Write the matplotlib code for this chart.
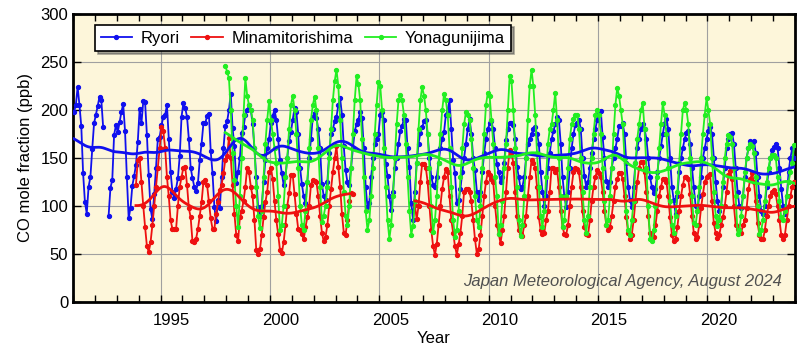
import numpy as np
import matplotlib
matplotlib.use('Agg')
import matplotlib.pyplot as plt
from matplotlib.ticker import FixedLocator, NullFormatter

nan = np.nan

# Monthly CO mole fraction (ppb), one row per year, Jan..Dec
ryori_start = 1991
ryori = [
    198, 205, 224, 205, 183, 134, 104,  92, 120, 130, 159, 186,   # 1991
    195, 204, 214, 210, 182, nan, nan,  90, 119, 127, 174, 184,   # 1992
    177, 187, 198, 206, 178, 130,  87,  98, 121, 131, 143, 167,   # 1993
    201, 186, 209, 208, 174, 132,  97,  86, 112, 140, 170, 172,   # 1994
    184, 193, 195, 205, 170, 135, 115, 108, 118, 129, 152, 193,   # 1995
    207, 202, 193, 170, 140, 129, 120, 116, 124, 148, 165, 186,   # 1996
    186, 194, 196, 157, 134,  99,  84, 106,  98, 130, 160, 183,   # 1997
    188, 200, 217, 181, 162, 124, 135, 150, 176, 182, 195, 200,   # 1998
    205, 200, 185, 160, 130,  99,  90, 100, 125, 148, 160, 170,   # 1999
    186, 194, 200, 190, 170, 148, 134, 122, 130, 150, 168, 177,   # 2000
    190, 202, 198, 175, 140, 123, 110, 103, 125, 150, 170, 193,   # 2001
    197, 192, 180, 160, 123, 110, 106, 125, 155, 175, 180, 188,   # 2002
    193, 205, 212, 195, 162, 137, 125, 122, 140, 160, 178, 185,   # 2003
    190, 198, 192, 160, 120,  99, 103, 130, 150, 165, 170, 175,   # 2004
    195, 198, 190, 144, 131, 110,  96, 115, 140, 150, 165, 178,   # 2005
    183, 191, 190, 160, 141, 103,  85, 115, 145, 165, 176, 182,   # 2006
    188, 190, 175, 150, 130, 122, 120, 130, 145, 160, 170, 177,   # 2007
    195, 200, 210, 180, 148, 134, 103, 106, 118, 135, 150, 165,   # 2008
    180, 191, 175, 150, 137, 115, 106, 115, 135, 155, 170, 180,   # 2009
    186, 188, 180, 160, 144, 135, 125, 130, 145, 169, 180, 186,   # 2010
    186, 184, 170, 141, 130, 118, 120, 130, 150, 165, 170, 175,   # 2011
    180, 182, 175, 165, 135, 115, 100, 110, 140, 155, 170, 178,   # 2012
    185, 193, 190, 165, 130, 110,  99, 115, 140, 160, 175, 184,   # 2013
    186, 190, 180, 150, 131, 120, 125, 140, 155, 170, 180, 190,   # 2014
    197, 199, 172, 150, 126, 120, 125, 140, 150, 160, 170, 183,   # 2015
    183, 186, 175, 145, 120, 106,  99, 120, 145, 160, 170, 180,   # 2016
    185, 180, 170, 150, 130, 120, 113, 118, 135, 150, 162, 175,   # 2017
    186, 191, 180, 150, 120, 106,  92, 110, 135, 150, 160, 170,   # 2018
    176, 178, 165, 140, 120, 100,  95, 110, 130, 150, 160, 170,   # 2019
    178, 182, 175, 150, 125, 105,  95, 100, 120, 140, 160, 170,   # 2020
    175, 176, 165, 140, 115, 100,  98, 110, 130, 150, 160, 168,   # 2021
    165, 168, 155, 130, 110,  95,  92, 100, 120, 135, 150, 158,   # 2022
    161, 165, 160, 140, 118, 100,  92, 110, 135, 150, 160, 150,   # 2023
]

minami_start = 1993
minami = [
    nan, nan, nan, nan, nan, nan, nan, nan, nan, nan, 122, 148,   # 1993
    150, 125, 100,  78,  58,  52,  62,  80, 100, 120, 140, 160,   # 1994
    182, 178, 160, 130, 110,  85,  76,  76,  76, 100, 120, 130,   # 1995
    140, 141, 122,  98,  88,  63,  62,  66,  76,  90, 104, 125,   # 1996
    127, 122, 105,  87,  76,  76,  92, 104, 117, 122, 134, 148,   # 1997
    152, 171, 150, 122,  92,  70,  63,  88,  95, 105, 120, 140,   # 1998
    135, 120, 110,  85,  54,  50,  55,  70,  88, 104, 115, 135,   # 1999
    140, 128, 105,  85,  71,  54,  51,  62,  80, 100, 113, 132,   # 2000
    132, 112,  92,  76,  75,  71,  65,  78,  88, 100, 122, 127,   # 2001
    126, 125, 110,  90,  72,  63,  68,  80, 100, 118, 135, 150,   # 2002
    162, 141, 120,  92,  72,  70,  85, 105, 113, 112, nan, nan,   # 2003
    nan, nan, nan, nan, nan, nan, nan, nan, nan, nan, nan, nan,   # 2004
    nan, nan, nan, nan, nan, nan, nan, nan, nan, nan, nan, nan,   # 2005
    nan, nan, nan, nan, nan, nan, nan, 101,  86, 100, 125, 144,   # 2006
    144, 140, 125, 100,  75,  58,  49,  60,  80, 100, 118, 130,   # 2007
    139, 135, 110,  85,  72,  58,  49,  60,  72,  90, 115, 118,   # 2008
    118, 115, 105,  85,  65,  50,  55,  70,  90, 110, 125, 135,   # 2009
    132, 128, 125, 100,  80,  71,  61,  75,  90, 115, 140, 158,   # 2010
    155, 145, 115,  90,  75,  71,  69,  80,  90, 110, 130, 148,   # 2011
    145, 140, 120,  88,  75,  71,  72,  85,  95, 115, 140, 140,   # 2012
    135, 138, 120,  95,  78,  71,  70,  80, 100, 120, 135, 140,   # 2013
    139, 135, 120,  95,  78,  71,  70,  85, 105, 120, 130, 137,   # 2014
    134, 130, 115,  95,  80,  75,  78,  90, 105, 120, 128, 134,   # 2015
    134, 128, 110,  88,  72,  66,  70,  85, 105, 125, 140, 146,   # 2016
    146, 135, 115,  90,  72,  66,  68,  80,  95, 110, 120, 128,   # 2017
    128, 125, 110,  88,  70,  63,  66,  78,  95, 110, 122, 130,   # 2018
    130, 128, 112,  90,  72,  66,  68,  80,  98, 112, 125, 130,   # 2019
    131, 133, 105,  82,  72,  67,  70,  80,  88, 100, 115, 132,   # 2020
    136, 128, 100,  80,  76,  75,  72,  80,  85,  98, 118, 128,   # 2021
    134, 125, 105,  82,  70,  65,  65,  75,  90, 100, 110, 115,   # 2022
    117, 112, 100,  85,  70,  65,  70,  85, 100, 110, 120, 125,   # 2023
]

yonagu_start = 1997
yonagu = [
    nan, nan, nan, nan, nan, nan, nan, nan, nan, nan, nan, 246,   # 1997
    240, 233, 200, 155, 127, 100,  78, 110, 150, 195, 233, 215,   # 1998
    205, 200, 190, 160, 120,  90,  77,  95, 130, 165, 190, 209,   # 1999
    190, 175, 160, 145, 110,  75,  80, 100, 130, 150, 180, 205,   # 2000
    215, 200, 175, 140, 100,  80,  75,  95, 125, 160, 190, 205,   # 2001
    214, 200, 160, 120,  83,  90, 100, 120, 150, 180, 210, 230,   # 2002
    242, 225, 190, 150, 115,  90,  80, 100, 140, 175, 210, 235,   # 2003
    227, 210, 170, 130,  95,  75,  85, 110, 140, 175, 205, 229,   # 2004
    225, 200, 160, 120,  85,  66,  80, 110, 150, 185, 210, 216,   # 2005
    210, 195, 165, 130,  95,  70,  79, 105, 145, 180, 210, 224,   # 2006
    215, 200, 175, 140, 100,  73,  85, 110, 145, 175, 200, 217,   # 2007
    210, 195, 160, 120,  85,  68,  75,  95, 130, 160, 185, 198,   # 2008
    195, 190, 170, 140, 110,  85,  78, 100, 140, 175, 205, 218,   # 2009
    215, 190, 165, 130, 110,  71,  80, 105, 140, 165, 200, 235,   # 2010
    230, 200, 160, 120,  85,  69,  80, 110, 150, 190, 225, 242,   # 2011
    225, 195, 155, 120,  90,  78,  95, 130, 165, 180, 185, 200,   # 2012
    218, 190, 150, 110,  78,  85, 110, 140, 170, 185, 191, 195,   # 2013
    195, 180, 150, 115,  85,  72,  90, 120, 150, 175, 195, 200,   # 2014
    195, 175, 140, 105,  80,  85, 110, 140, 175, 205, 223, 215,   # 2015
    200, 185, 150,  95,  75,  70,  85, 105, 145, 170, 185, 200,   # 2016
    207, 180, 140, 100,  65,  63,  75, 100, 130, 160, 185, 207,   # 2017
    195, 175, 140, 105,  80,  72,  90, 115, 145, 175, 200, 207,   # 2018
    200, 185, 150, 110,  82,  80,  95, 120, 150, 175, 195, 212,   # 2019
    200, 185, 150, 115,  90,  79,  85, 100, 125, 150, 165, 174,   # 2020
    172, 165, 140, 110,  71,  75,  90, 110, 135, 150, 160, 165,   # 2021
    162, 155, 130, 100,  71,  75,  85, 105, 125, 140, 150, 153,   # 2022
    153, 150, 130, 105,  88,  85,  95, 110, 125, 135, 145, 164,   # 2023
]

stations = ['Ryori', 'Minamitorishima', 'Yonagunijima']
colors = ['#1010ee', '#ee1010', '#22ee22']
year_labels = [1995, 2000, 2005, 2010, 2015, 2020]


def monthly_time(start, values):
    return start + (np.arange(len(values)) + 0.5) / 12.0


def smooth_trend(t, v, sigma=0.45):
    # remove the mean seasonal cycle, then gaussian-smooth each data stretch
    v = np.asarray(v, dtype=float)
    table = v.reshape(-1, 12)
    clim = np.nanmean(table, axis=0) - np.nanmean(table)
    d = (table - clim).ravel()
    idx = np.where(~np.isnan(v))[0]
    breaks = np.where(np.diff(idx) > 6)[0] + 1
    pieces = []
    for seg in np.split(idx, breaks):
        ts, ds = t[seg], d[seg]
        grid = np.linspace(ts[0], ts[-1], len(ts) * 6)
        w = np.exp(-0.5 * ((grid[:, None] - ts[None, :]) / sigma) ** 2)
        pieces.append((grid, (w * ds).sum(axis=1) / w.sum(axis=1)))
    return pieces


plt.rcParams['font.family'] = ['Liberation Sans', 'DejaVu Sans']

fig = plt.figure(figsize=(8.12, 3.51), dpi=100)
ax = fig.add_axes([0.09, 0.14, 0.889, 0.82])
ax.set_facecolor('#fdf6da')

series = [(ryori_start, ryori), (minami_start, minami), (yonagu_start, yonagu)]
for (start, vals), name, col in zip(series, stations, colors):
    t = monthly_time(start, vals)
    ax.plot(t, np.asarray(vals, dtype=float), color=col, lw=1.3,
            marker='o', ms=2.8, label=name, zorder=3)

for (start, vals), col in zip(series, colors):
    t = monthly_time(start, vals)
    for gt, gv in smooth_trend(t, vals):
        ax.plot(gt, gv, color=col, lw=2.0, zorder=4)

ax.set_xlim(1991, 2024)
ax.set_ylim(0, 300)
ax.set_yticks(np.arange(0, 301, 50))
ax.grid(axis='y', color='#a0a0a0', lw=0.8, zorder=1)
for yr in year_labels:
    ax.axvline(yr, color='#a0a0a0', lw=0.8, zorder=1)

# year ticks at Jan 1, labels centred on the year
ax.xaxis.set_minor_locator(FixedLocator(np.arange(1991, 2025)))
ax.xaxis.set_minor_formatter(NullFormatter())
ax.set_xticks([y + 0.5 for y in year_labels])
ax.set_xticklabels([str(y) for y in year_labels])
ax.tick_params(axis='x', which='major', length=0, pad=8, labelsize=12)
ax.tick_params(axis='x', which='minor', direction='in', length=5,
               width=1, top=True, bottom=True)
ax.tick_params(axis='y', direction='in', length=6, width=1,
               left=True, right=True, labelsize=12)
for s in ax.spines.values():
    s.set_linewidth(2)

ax.set_xlabel('Year', fontsize=12, labelpad=2)
ax.set_ylabel('CO mole fraction (ppb)', fontsize=12, labelpad=5)

leg = ax.legend(loc='upper left', bbox_to_anchor=(0.03, 0.963), ncol=3,
                fontsize=12, frameon=True, fancybox=False, shadow=True,
                numpoints=1, handlelength=1.9, columnspacing=0.7,
                handletextpad=0.5, borderpad=0.35, borderaxespad=0)
leg.get_frame().set_edgecolor('black')
leg.get_frame().set_linewidth(1.2)
leg.set_zorder(10)

ax.text(0.982, 0.07, 'Japan Meteorological Agency, August 2024',
        transform=ax.transAxes, ha='right', va='center',
        fontsize=12, style='italic', color='#505050', zorder=6)

fig.savefig('out.png', dpi=100)
